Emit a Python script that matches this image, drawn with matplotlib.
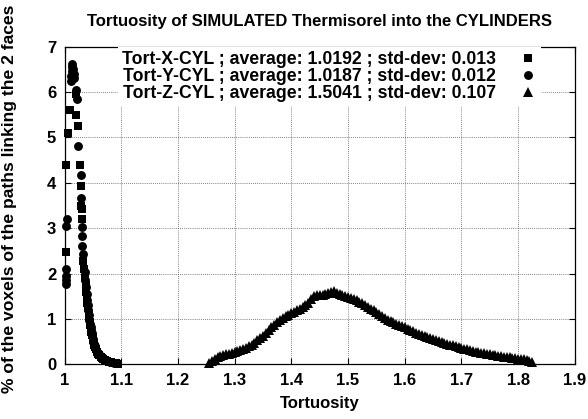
import matplotlib
matplotlib.use("Agg")
import matplotlib.pyplot as plt
from matplotlib.ticker import FixedLocator, FuncFormatter

ARQ_FIG = "out.png"

TITULO = "Tortuosity of SIMULATED Thermisorel into the CYLINDERS"
ROTULO_X = "Tortuosity"
ROTULO_Y = "% of the voxels of the paths linking the 2 faces"

LEGENDAS = [
    "Tort-X-CYL ; average: 1.0192 ; std-dev: 0.013",
    "Tort-Y-CYL ; average: 1.0187 ; std-dev: 0.012",
    "Tort-Z-CYL ; average: 1.5041 ; std-dev: 0.107",
]

X_TICKS = [1.0, 1.1, 1.2, 1.3, 1.4, 1.5, 1.6, 1.7, 1.8, 1.9]
Y_TICKS = [0, 1, 2, 3, 4, 5, 6, 7]

# Tort-X (quadrados)
tort_x = [1.0030, 1.0035, 1.0060, 1.0100, 1.0200, 1.0210, 1.0230, 1.0280, 1.0290,
          1.0295, 1.0300, 1.0305, 1.0330, 1.0345, 1.0365, 1.0375, 1.0385, 1.0395,
          1.0405, 1.0415, 1.0425, 1.0435, 1.0445, 1.0455, 1.0465, 1.0475, 1.0485,
          1.0495, 1.0505, 1.0515, 1.0525, 1.0540, 1.0555, 1.0575, 1.0595, 1.0615,
          1.0635, 1.0655, 1.0680, 1.0710, 1.0745, 1.0780, 1.0820, 1.0860, 1.0900,
          1.0940]
pct_x = [4.39, 2.48, 5.10, 5.61, 5.95, 5.50, 5.25, 4.39, 3.92,
         3.48, 3.43, 3.21, 2.28, 2.10, 1.90, 1.75, 1.60, 1.47,
         1.35, 1.24, 1.13, 1.03, 0.94, 0.86, 0.78, 0.72, 0.65,
         0.59, 0.53, 0.48, 0.43, 0.38, 0.33, 0.28, 0.23, 0.20,
         0.17, 0.15, 0.12, 0.10, 0.08, 0.065, 0.05, 0.04, 0.03,
         0.02]

# Tort-Y (circulos)
tort_y = [1.0025, 1.0027, 1.0030, 1.0032, 1.0035, 1.0037, 1.0110, 1.0118, 1.0125,
          1.0135, 1.0140, 1.0150, 1.0160, 1.0170, 1.0200, 1.0220, 1.0240, 1.0285,
          1.0295, 1.0305, 1.0310, 1.0315, 1.0325, 1.0360, 1.0370, 1.0380, 1.0390,
          1.0400, 1.0410, 1.0420, 1.0430, 1.0440, 1.0450, 1.0460, 1.0470, 1.0480,
          1.0490, 1.0500, 1.0510, 1.0520, 1.0530, 1.0545, 1.0560, 1.0580, 1.0600,
          1.0620, 1.0640, 1.0660, 1.0690, 1.0720, 1.0760, 1.0800, 1.0840, 1.0880,
          1.0920]
pct_y = [1.77, 1.85, 1.94, 2.10, 3.05, 3.20, 6.25, 6.35, 6.45,
         6.55, 6.62, 6.50, 6.40, 6.30, 6.05, 5.85, 4.81, 4.17,
         3.66, 3.03, 2.83, 2.60, 2.43, 2.03, 1.85, 1.70, 1.55,
         1.42, 1.30, 1.19, 1.08, 0.98, 0.90, 0.82, 0.75, 0.69,
         0.62, 0.56, 0.50, 0.45, 0.41, 0.36, 0.31, 0.26, 0.22,
         0.19, 0.16, 0.14, 0.11, 0.09, 0.07, 0.055, 0.045, 0.035,
         0.025]

# Tort-Z (triangulos)
tort_z = [1.255, 1.260, 1.265, 1.270, 1.275, 1.280, 1.285, 1.290, 1.295, 1.300,
          1.305, 1.310, 1.315, 1.320, 1.325, 1.330, 1.335, 1.340, 1.345, 1.350,
          1.355, 1.360, 1.365, 1.370, 1.375, 1.380, 1.385, 1.390, 1.395, 1.400,
          1.405, 1.410, 1.415, 1.420, 1.425, 1.430, 1.435, 1.440, 1.445, 1.450,
          1.455, 1.460, 1.465, 1.470, 1.475, 1.480, 1.485, 1.490, 1.495, 1.500,
          1.505, 1.510, 1.515, 1.520, 1.525, 1.530, 1.535, 1.540, 1.545, 1.550,
          1.555, 1.560, 1.565, 1.570, 1.575, 1.580, 1.585, 1.590, 1.595, 1.600,
          1.605, 1.610, 1.615, 1.620, 1.625, 1.630, 1.635, 1.640, 1.645, 1.650,
          1.655, 1.660, 1.665, 1.670, 1.675, 1.680, 1.685, 1.690, 1.695, 1.700,
          1.705, 1.710, 1.715, 1.720, 1.725, 1.730, 1.735, 1.740, 1.745, 1.750,
          1.755, 1.760, 1.765, 1.770, 1.775, 1.780, 1.785, 1.790, 1.795, 1.800,
          1.805, 1.810, 1.815, 1.820, 1.825]
pct_z = [0.03, 0.07, 0.12, 0.16, 0.19, 0.21, 0.22, 0.24, 0.25, 0.27,
         0.29, 0.31, 0.34, 0.37, 0.40, 0.44, 0.48, 0.53, 0.58, 0.63,
         0.69, 0.76, 0.82, 0.87, 0.93, 0.98, 1.02, 1.07, 1.10, 1.14,
         1.16, 1.21, 1.23, 1.26, 1.30, 1.36, 1.44, 1.50, 1.52, 1.53,
         1.54, 1.55, 1.57, 1.59, 1.61, 1.58, 1.55, 1.52, 1.50, 1.49,
         1.47, 1.44, 1.41, 1.38, 1.35, 1.31, 1.27, 1.23, 1.19, 1.15,
         1.11, 1.07, 1.03, 0.99, 0.96, 0.93, 0.90, 0.87, 0.85, 0.82,
         0.79, 0.76, 0.73, 0.70, 0.68, 0.65, 0.63, 0.60, 0.58, 0.56,
         0.54, 0.52, 0.50, 0.48, 0.46, 0.44, 0.42, 0.40, 0.38, 0.36,
         0.35, 0.33, 0.31, 0.30, 0.28, 0.27, 0.26, 0.25, 0.23, 0.22,
         0.21, 0.20, 0.19, 0.18, 0.17, 0.16, 0.16, 0.15, 0.14, 0.13,
         0.12, 0.11, 0.10, 0.08, 0.05]


def gerar_grafico(caminho_fig: str = ARQ_FIG) -> None:
    plt.rcParams["font.family"] = ["Liberation Sans", "DejaVu Sans"]
    plt.rcParams["font.weight"] = "bold"
    plt.rcParams["font.size"] = 12

    fig = plt.figure(figsize=(5.88, 4.19), dpi=100)
    ax = fig.add_axes([0.1097, 0.1301, 0.8679, 0.7589])

    series = [
        (tort_x, pct_x, "s", 5.6),
        (tort_y, pct_y, "o", 6.4),
        (tort_z, pct_z, "^", 7.8),
    ]
    handles = []
    for (xs, ys, mk, ms), rot in zip(series, LEGENDAS):
        h, = ax.plot(xs, ys, linestyle="none", marker=mk, markersize=ms,
                     color="black", markeredgewidth=0, label=rot,
                     clip_on=False, zorder=3)
        handles.append(h)

    ax.set_xlim(1.0, 1.9)
    ax.set_ylim(0, 7)
    ax.xaxis.set_major_locator(FixedLocator(X_TICKS))
    ax.yaxis.set_major_locator(FixedLocator(Y_TICKS))
    ax.xaxis.set_major_formatter(FuncFormatter(lambda v, p: f"{v:g}"))
    ax.yaxis.set_major_formatter(FuncFormatter(lambda v, p: f"{v:g}"))

    ax.grid(True, linestyle=(0, (1, 1.5)), color="0.35", linewidth=0.6)
    ax.set_axisbelow(True)
    ax.tick_params(direction="in", top=True, right=True, length=4,
                   width=0.8, labelsize=12, pad=6)
    for lado in ax.spines.values():
        lado.set_linewidth(0.9)

    ax.set_title(TITULO, fontsize=12, fontweight="bold", pad=15)
    ax.set_xlabel(ROTULO_X, fontsize=12, fontweight="bold", labelpad=6)
    ax.set_ylabel(ROTULO_Y, fontsize=12.6, fontweight="bold")
    ax.yaxis.set_label_coords(-0.093, 0.52)

    leg = ax.legend(handles=handles, loc="upper left",
                    bbox_to_anchor=(0.105, 1.0), markerfirst=False,
                    frameon=True, fancybox=False, framealpha=1.0,
                    facecolor="white", edgecolor="none",
                    handlelength=1.0, handletextpad=1.3,
                    labelspacing=0.0, borderpad=0.25, borderaxespad=0.0,
                    prop={"weight": "bold", "size": 12.7})
    leg.set_zorder(4)

    fig.savefig(caminho_fig, dpi=100)
    plt.close(fig)


def main():
    gerar_grafico(ARQ_FIG)


if __name__ == "__main__":
    main()
